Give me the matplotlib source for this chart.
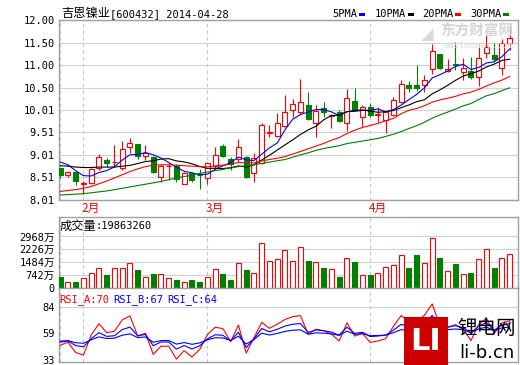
import numpy as np
import matplotlib
matplotlib.use("Agg")
import matplotlib.pyplot as plt
from matplotlib.patches import Rectangle

# ---------------- data ----------------
opens = [8.71, 8.56, 8.62, 8.37, 8.38, 8.73, 8.90, 8.85, 8.72, 9.18,
         9.25, 8.99, 8.96, 8.53, 8.76, 8.77, 8.37, 8.60, 8.57, 8.49,
         8.77, 9.21, 8.91, 8.91, 8.96, 8.60, 8.82, 9.50, 9.42, 9.64,
         10.01, 9.96, 10.11, 9.72, 10.06, 9.87, 9.96, 9.72, 10.20, 9.85,
         10.07, 9.90, 9.78, 9.89, 10.19, 10.57, 10.57, 10.56, 10.91, 11.24,
         10.87, 11.02, 10.85, 10.87, 10.74, 11.26, 11.22, 10.93, 11.50]
highs = [8.73, 8.65, 8.63, 8.44, 8.71, 9.03, 8.94, 9.23, 9.31, 9.38,
         9.26, 9.23, 8.99, 8.80, 8.84, 8.81, 8.62, 8.64, 8.70, 8.86,
         9.18, 9.25, 8.97, 9.37, 8.98, 9.05, 9.72, 9.68, 9.94, 10.34,
         10.24, 10.69, 10.40, 10.11, 10.18, 9.92, 10.00, 10.47, 10.49, 10.11,
         10.17, 10.07, 9.97, 10.30, 10.67, 10.64, 11.00, 10.79, 11.47, 11.25,
         11.13, 11.52, 11.16, 11.19, 11.46, 11.78, 11.50, 11.58, 11.87]
lows = [8.49, 8.51, 8.34, 8.14, 8.37, 8.68, 8.75, 8.75, 8.68, 9.05,
        8.91, 8.90, 8.60, 8.41, 8.45, 8.40, 8.36, 8.40, 8.25, 8.37,
        8.72, 8.97, 8.68, 8.85, 8.50, 8.40, 8.80, 9.40, 9.40, 9.62,
        9.84, 9.92, 9.78, 9.41, 9.85, 9.60, 9.75, 9.55, 9.98, 9.65,
        9.85, 9.75, 9.50, 9.88, 10.17, 10.41, 10.42, 10.41, 10.81, 10.92,
        10.85, 10.89, 10.67, 10.70, 10.54, 11.16, 11.07, 10.78, 11.33]
closes = [8.57, 8.62, 8.44, 8.39, 8.69, 8.96, 8.83, 8.86, 9.14, 9.27,
          8.99, 9.05, 8.62, 8.77, 8.77, 8.47, 8.60, 8.45, 8.56, 8.83,
          9.01, 8.99, 8.80, 9.18, 8.51, 8.95, 9.68, 9.51, 9.71, 9.97,
          10.13, 10.19, 9.81, 9.98, 9.95, 9.89, 9.77, 10.26, 10.00, 10.07,
          9.89, 9.92, 9.96, 10.22, 10.58, 10.50, 10.50, 10.68, 11.32, 10.94,
          10.91, 11.00, 10.93, 10.74, 11.16, 11.41, 11.13, 11.50, 11.59]
# volume in 万 shares
volumes = [610, 344, 363, 591, 859, 1164, 763, 1164, 1164, 1431,
           1049, 630, 821, 801, 591, 477, 344, 477, 363, 630,
           1107, 821, 477, 1431, 1049, 859, 2576, 1545, 1660, 2194,
           1564, 2347, 1564, 1489, 1126, 1107, 649, 1717, 1508, 744,
           763, 859, 1202, 1317, 1889, 1126, 1889, 1431, 2862, 1736,
           973, 1393, 801, 878, 1660, 2232, 1164, 1717, 1986]
ma5_head = [8.85, 8.79, 8.66, 8.55]
ma10_head = [8.77, 8.76, 8.74, 8.73, 8.73, 8.74, 8.74, 8.74, 8.76]
ma20_head = [8.20, 8.22, 8.24, 8.27, 8.31, 8.37, 8.43, 8.50, 8.57, 8.64,
             8.70, 8.75, 8.78, 8.79, 8.79, 8.78, 8.77, 8.76, 8.75]
ma30_head = [8.12, 8.13, 8.14, 8.15, 8.17, 8.19, 8.21, 8.24, 8.27, 8.30,
             8.33, 8.36, 8.39, 8.42, 8.46, 8.50, 8.53, 8.56, 8.60, 8.63,
             8.66, 8.69, 8.72, 8.75, 8.77, 8.79, 8.82, 8.85, 8.88]
rsi_periods = [6, 12, 24]
rsi_start = [47, 50, 51]

title_name = "吉恩镍业"
title_code = "[600432] 2014-04-28"
vol_title = "成交量"
vol_value = ":19863260"
month_labels = ["2月", "3月", "4月"]
month_start_idx = [3, 19, 40]
grid_idx = [0, 3, 19, 40]
price_ticks = [8.01, 8.51, 9.01, 9.51, 10.01, 10.50, 11.00, 11.50, 12.00]
price_ticklabels = ["8.01", "8.51", "9.01", "9.51", "10.01", "10.50", "11.00", "11.50", "12.00"]
vol_ticks = [0, 742, 1484, 2226, 2968]
vol_ticklabels = ["0", "742万", "1484万", "2226万", "2968万"]
rsi_ticks = [33, 59, 84]
rsi_labels = ["RSI_A:70", "RSI_B:67", "RSI_C:64"]
legend_labels = ["5PMA", "10PMA", "20PMA", "30PMA"]

# ---------------- styling ----------------
RED = "#ff0000"
GREEN = "#008000"
BLUE = "#0000ff"
GRID = "#d2d2d2"
BORDER = "#a0a0a0"
MONO = ["DejaVu Sans Mono", "Noto Sans CJK SC"]
CJK = ["Noto Sans CJK SC", "DejaVu Sans"]
plt.rcParams["font.family"] = MONO

W, H = 520, 365
fig = plt.figure(figsize=(W / 100, H / 100), dpi=100)


def ax_at(x0, y0, x1, y1):
    return fig.add_axes([x0 / W, 1 - y1 / H, (x1 - x0) / W, (y1 - y0) / H])


def fx(px):
    return px / W


def fy(py):
    return 1 - py / H


c = np.array(closes)
o = np.array(opens)
hi = np.array(highs)
lo = np.array(lows)
v = np.array(volumes, dtype=float)
n = len(c)
x = np.arange(n)
up = c >= o


def moving_avg(head, k):
    out = np.full(n, np.nan)
    out[:len(head)] = head
    for i in range(k - 1, n):
        out[i] = c[i - k + 1:i + 1].mean()
    return out


def rsi(k, start):
    d = np.diff(c)
    ab = np.mean(np.abs(d[:k]))
    u = ab * start / 100.0
    out = [start]
    for dd in d:
        u = (max(dd, 0) + (k - 1) * u) / k
        ab = (abs(dd) + (k - 1) * ab) / k
        out.append(100 * u / ab)
    return np.array(out)


XMIN, XMAX = -0.155, -0.155 + 459 / 7.75
BW = 0.65

ax_p = ax_at(59, 20, 518, 200)
ax_v = ax_at(59, 217, 518, 288)
ax_r = ax_at(59, 288, 518, 362)

for ax in (ax_p, ax_v, ax_r):
    ax.set_xlim(XMIN, XMAX)
    ax.set_xticks([])
    for s in ax.spines.values():
        s.set_color(BORDER)
        s.set_linewidth(1.0)
    ax.tick_params(axis="y", length=0, pad=3, labelsize=7.5, colors="black")
    for gi in grid_idx:
        ax.axvline(gi, color="#c4c4c4", lw=0.8, ls=(0, (3, 3)), zorder=0)

# ---- price panel ----
ax_p.set_ylim(8.01, 12.00)
ax_p.set_yticks(price_ticks)
ax_p.set_yticklabels(price_ticklabels)
for t in price_ticks:
    ax_p.axhline(t, color=GRID, lw=0.8, zorder=0)

col = np.where(up, RED, GREEN)
ax_p.vlines(x, lo, hi, colors=col, lw=0.8, zorder=2)
body_bot = np.minimum(o, c)
body_h = np.abs(c - o)
ax_p.bar(x[up], body_h[up], BW, bottom=body_bot[up], facecolor="white",
         edgecolor=RED, lw=0.8, zorder=3)
ax_p.bar(x[~up], body_h[~up], BW, bottom=body_bot[~up], facecolor=GREEN,
         edgecolor=GREEN, lw=0.8, zorder=3)

ma_cols = [BLUE, "black", RED, GREEN]
for head, k, mc in zip([ma5_head, ma10_head, ma20_head, ma30_head], [5, 10, 20, 30], ma_cols):
    ax_p.plot(x, moving_avg(head, k), color=mc, lw=0.8, zorder=4)

for lab, mi in zip(month_labels, month_start_idx):
    ax_p.text(mi - 0.25, -0.045, lab, transform=ax_p.get_xaxis_transform(),
              ha="left", va="center", color=RED, fontsize=8.5, family=CJK)

# ---- volume panel ----
ax_v.set_ylim(0, 4089)
ax_v.set_yticks(vol_ticks)
ax_v.set_yticklabels(vol_ticklabels)
for t in vol_ticks[1:]:
    ax_v.axhline(t, color=GRID, lw=0.8, zorder=0)
ax_v.bar(x[up], v[up], BW, facecolor="white", edgecolor=RED, lw=0.8, zorder=3)
ax_v.bar(x[~up], v[~up], BW, facecolor=GREEN, edgecolor=GREEN, lw=0.8, zorder=3)

# ---- RSI panel ----
ax_r.set_ylim(31.0, 102.0)
ax_r.set_yticks(rsi_ticks)
ax_r.set_yticklabels([str(t) for t in rsi_ticks])
ax_r.axhline(84, color=GRID, lw=0.8, zorder=0)
rsi_cols = [RED, BLUE, BLUE]
for k, s0, rc in zip(rsi_periods, rsi_start, rsi_cols):
    ax_r.plot(x, rsi(k, s0), color=rc, lw=0.8, zorder=3)

# ---- texts ----
fig.text(fx(61), fy(14), title_name, family=CJK, fontsize=8.8, va="center", ha="left")
fig.text(fx(110), fy(14), title_code, fontsize=7.5, va="center", ha="left")
fig.text(fx(60), fy(226), vol_title, family=CJK, fontsize=8.8, va="center", ha="left")
fig.text(fx(95), fy(226), vol_value, fontsize=7.5, va="center", ha="left")
for lab, px, rc in zip(rsi_labels, [59, 113, 167], rsi_cols):
    fig.text(fx(px), fy(300), lab, fontsize=7.5, color=rc, va="center", ha="left")

leg_text_x = [332, 375, 422, 470]
leg_mark_x = [359, 408, 455, 503]
for lab, tx, mx, mc in zip(legend_labels, leg_text_x, leg_mark_x, ma_cols):
    fig.text(fx(tx), fy(14), lab, fontsize=7.5, va="center", ha="left")
    fig.add_artist(Rectangle((fx(mx), fy(16)), 6 / W, 3 / H, transform=fig.transFigure,
                             facecolor=mc, edgecolor="none"))

# watermark: eastmoney
fig.text(fx(440), fy(31), "东方财富网", family=CJK, fontsize=10.5, fontweight="bold",
         color="#d6d6d6", va="center", ha="left", zorder=1)
fig.text(fx(443), fy(45), "eastmoney.com", fontsize=6.5, color="#dcdcdc",
         va="center", ha="left", zorder=1)
fig.text(fx(427), fy(35), "◢", family=["DejaVu Sans"], fontsize=12,
         color="#d9d9d9", va="center", ha="center", zorder=1)

# watermark: li-b.cn logo
fig.add_artist(Rectangle((fx(404), fy(365)), 44 / W, 48 / H, transform=fig.transFigure,
                         facecolor="#cc0000", edgecolor="none", zorder=10))
fig.text(fx(426), fy(342), "LI", family=["DejaVu Sans"], fontsize=22, fontweight="bold",
         color="white", va="center", ha="center", zorder=11)
fig.text(fx(487), fy(329), "锂电网", family=CJK, fontsize=14, color="black",
         va="center", ha="center", zorder=11)
fig.text(fx(487), fy(353), "li-b.cn", family=["DejaVu Sans"], fontsize=13, color="black",
         va="center", ha="center", zorder=11)

fig.savefig("out.png", dpi=100, facecolor="white")
